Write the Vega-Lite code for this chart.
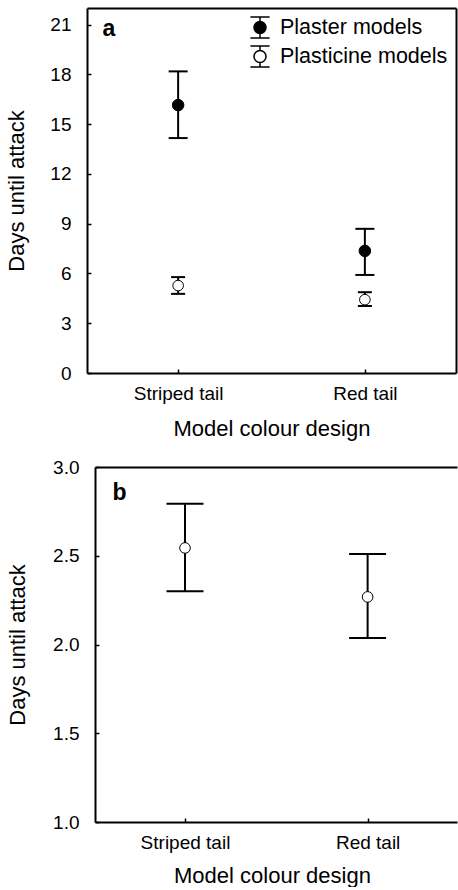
{
  "$schema": "https://vega.github.io/schema/vega-lite/v6.json",
  "background": "white",
  "padding": {"left": 5, "top": 7, "right": 0, "bottom": 0},
  "config": {
    "font": "Liberation Sans",
    "view": {"stroke": "transparent"},
    "axis": {
      "domainColor": "black", "domainWidth": 2,
      "tickColor": "black", "tickWidth": 1.5, "tickSize": -4,
      "labelFont": "Liberation Sans", "labelFontSize": 19, "labelColor": "black",
      "titleFont": "Liberation Sans", "titleFontSize": 22, "titleColor": "black", "titleFontWeight": "normal",
      "grid": false
    }
  },
  "spacing": 17,
  "vconcat": [
    {
      "width": 369,
      "height": 365,
      "data": {"values": [
        {"design": "Striped tail", "models": "Plaster models", "mean": 16.15, "lower": 14.16, "upper": 18.18},
        {"design": "Red tail", "models": "Plaster models", "mean": 7.36, "lower": 5.91, "upper": 8.69},
        {"design": "Striped tail", "models": "Plasticine models", "mean": 5.27, "lower": 4.77, "upper": 5.78},
        {"design": "Red tail", "models": "Plasticine models", "mean": 4.42, "lower": 4.04, "upper": 4.87}
      ]},
      "resolve": {"scale": {"size": "independent"}, "axis": {"x": "independent", "y": "independent"}},
      "layer": [
        {"mark": {"type": "rule", "color": "black", "strokeWidth": 2},
         "encoding": {
           "x": {"field": "design", "type": "nominal", "sort": ["Striped tail", "Red tail"], "scale": {"type": "point", "padding": 0.488},
                 "axis": {"title": "Model colour design", "labelAngle": 0, "labelPadding": 15, "titlePadding": 15}},
           "y": {"field": "lower", "type": "quantitative", "title": "Days until attack", "scale": {"domain": [0, 22], "nice": false},
                 "axis": {"values": [0, 3, 6, 9, 12, 15, 18, 21], "labelPadding": 20, "titlePadding": 21}},
           "y2": {"field": "upper"}
         }},
        {"mark": {"type": "tick", "color": "black", "thickness": 2, "opacity": 1},
         "encoding": {
           "x": {"field": "design", "type": "nominal", "sort": ["Striped tail", "Red tail"],
                 "axis": {"orient": "top", "title": "a", "labels": false, "ticks": false, "domain": true,
                          "titleX": 15, "titleY": 27, "titleAnchor": "start", "titleAlign": "left", "titleAngle": 0, "titleBaseline": "alphabetic",
                          "titleFontWeight": "bold", "titleFontSize": 23, "titlePadding": 0}},
           "y": {"field": "lower", "type": "quantitative", "title": "Days until attack", "axis": null},
           "size": {"field": "models", "type": "nominal", "scale": {"domain": ["Plaster models", "Plasticine models"], "range": [19, 14]}, "legend": null}
         }},
        {"mark": {"type": "tick", "color": "black", "thickness": 2, "opacity": 1},
         "encoding": {
           "x": {"field": "design", "type": "nominal", "sort": ["Striped tail", "Red tail"], "axis": null},
           "y": {"field": "upper", "type": "quantitative", "title": "Days until attack",
                 "axis": {"orient": "right", "title": null, "labels": false, "ticks": false, "domain": true}},
           "size": {"field": "models", "type": "nominal", "scale": {"domain": ["Plaster models", "Plasticine models"], "range": [19, 14]}, "legend": null}
         }},
        {"mark": {"type": "point", "filled": true, "stroke": "black", "strokeWidth": 1, "opacity": 1},
         "encoding": {
           "x": {"field": "design", "type": "nominal", "sort": ["Striped tail", "Red tail"], "axis": null},
           "y": {"field": "mean", "type": "quantitative", "title": "Days until attack", "axis": null},
           "size": {"field": "models", "type": "nominal", "scale": {"domain": ["Plaster models", "Plasticine models"], "range": [133, 113]}, "legend": null},
           "fill": {"field": "models", "type": "nominal", "scale": {"domain": ["Plaster models", "Plasticine models"], "range": ["black", "white"]},
                    "legend": {"title": null, "orient": "none", "legendX": 160, "legendY": 6.5, "padding": 0,
                               "labelFont": "Liberation Sans", "labelFontSize": 21.5, "labelColor": "black", "labelOffset": 7, "labelLimit": 400,
                               "rowPadding": 1, "symbolSize": 576, "symbolStrokeWidth": 1.5, "symbolStrokeColor": "black", "symbolOpacity": 1,
                               "symbolType": "M -0.8 -0.875 L 0.8 -0.875 M 0 -0.875 L 0 -0.5 M 0 0.5 L 0 0.875 M -0.8 0.875 L 0.8 0.875 M 0.5 0 A 0.5 0.5 0 1 0 -0.5 0 A 0.5 0.5 0 1 0 0.5 0 Z"}}
         }}
      ]
    },
    {
      "width": 370,
      "height": 355,
      "data": {"values": [
        {"design": "Striped tail", "mean": 2.544, "lower": 2.3, "upper": 2.793},
        {"design": "Red tail", "mean": 2.268, "lower": 2.037, "upper": 2.51}
      ]},
      "resolve": {"axis": {"x": "independent"}},
      "layer": [
        {"mark": {"type": "rule", "color": "black", "strokeWidth": 2},
         "encoding": {
           "x": {"field": "design", "type": "nominal", "sort": ["Striped tail", "Red tail"], "scale": {"type": "point", "padding": 0.513, "align": 0.523},
                 "axis": {"title": "Model colour design", "labelAngle": 0, "labelPadding": 15, "titlePadding": 13, "domainDash": [0, 8, 2000]}},
           "y": {"field": "lower", "type": "quantitative", "title": "Days until attack", "scale": {"domain": [1, 3], "nice": false},
                 "axis": {"values": [1, 1.5, 2, 2.5, 3], "format": ".1f", "labelPadding": 20, "titlePadding": 23, "offset": -8}},
           "y2": {"field": "upper"}
         }},
        {"mark": {"type": "tick", "color": "black", "thickness": 2, "opacity": 1, "size": 37},
         "encoding": {
           "x": {"field": "design", "type": "nominal", "sort": ["Striped tail", "Red tail"],
                 "axis": {"orient": "top", "title": "b", "labels": false, "ticks": false, "domain": true, "domainDash": [0, 8, 2000],
                          "titleX": 25, "titleY": 32, "titleAnchor": "start", "titleAlign": "left", "titleAngle": 0, "titleBaseline": "alphabetic",
                          "titleFontWeight": "bold", "titleFontSize": 23, "titlePadding": 0}},
           "y": {"field": "lower", "type": "quantitative", "title": "Days until attack"}}},
        {"mark": {"type": "tick", "color": "black", "thickness": 2, "opacity": 1, "size": 37},
         "encoding": {
           "x": {"field": "design", "type": "nominal", "sort": ["Striped tail", "Red tail"], "axis": null},
           "y": {"field": "upper", "type": "quantitative", "title": "Days until attack"}}},
        {"mark": {"type": "point", "filled": true, "fill": "white", "stroke": "black", "strokeWidth": 1, "opacity": 1, "size": 113},
         "encoding": {
           "x": {"field": "design", "type": "nominal", "sort": ["Striped tail", "Red tail"], "axis": null},
           "y": {"field": "mean", "type": "quantitative", "title": "Days until attack"}}}
      ]
    }
  ]
}
